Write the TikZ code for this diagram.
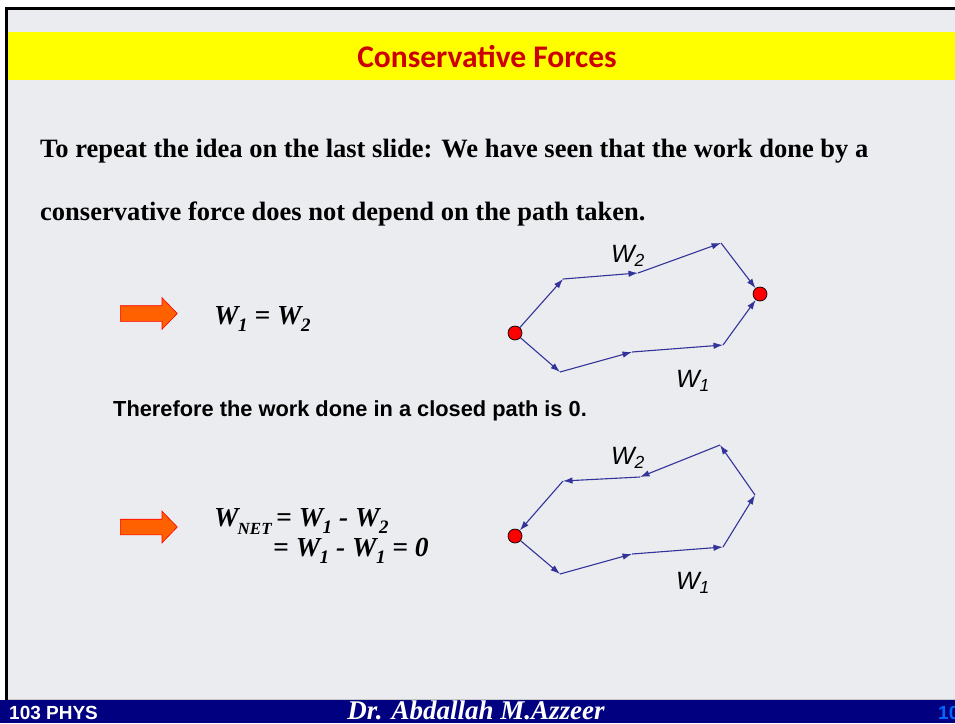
\documentclass[tikz,border=0pt]{standalone}
\usepackage{fontspec}
\setmainfont{Liberation Serif}
\newfontfamily\arialfont{Liberation Sans}
\newfontfamily\calibrifont{Carlito}
\usetikzlibrary{arrows.meta,shapes.arrows}
\definecolor{slidebg}{RGB}{235,236,240}
\definecolor{titlebar}{RGB}{255,255,0}
\definecolor{titlered}{RGB}{204,0,0}
\definecolor{pathblue}{RGB}{51,51,153}
\definecolor{footnavy}{RGB}{0,0,128}
\definecolor{pagenum}{RGB}{0,102,255}
\definecolor{hintfill}{RGB}{255,96,0}
\newcommand{\Wsub}[1]{W\kern-0.5pt\raisebox{-0.28em}{\fontsize{19}{19}\selectfont #1}}

\begin{document}
\begin{tikzpicture}[
  x=1pt,y=-1pt,
  seg/.style={-{Latex[length=9.5pt,width=6.5pt]},draw=pathblue,line width=1.1pt},
  dot/.style={circle,fill=red,draw=black,line width=0.7pt,minimum size=14pt,inner sep=0pt},
  hint/.style={single arrow,single arrow head extend=8pt,single arrow tip angle=92,
    minimum height=57pt,inner xsep=0pt,inner ysep=7.5pt,fill=hintfill,draw=red,
    line width=0.6pt,anchor=tail},
  body/.style={font=\fontsize{26.5}{30}\selectfont\bfseries,anchor=base west,inner sep=0pt},
  sansbody/.style={font=\arialfont\fontsize{21.8}{26}\selectfont\bfseries,anchor=base west,inner sep=0pt},
  eq/.style={font=\fontsize{27.5}{30}\selectfont\bfseries\itshape,anchor=base west,inner sep=0pt},
  wlabel/.style={font=\arialfont\itshape\fontsize{25}{26}\selectfont,inner sep=0pt}
]
\useasboundingbox (0,0) rectangle (955,723);
\clip (0,0) rectangle (955,723);

% -------------------------------------------------------------------------
% Slide frame, title bar and footer.
% -------------------------------------------------------------------------
\fill[white] (0,0) rectangle (955,723);
\fill[slidebg] (6,9) rectangle (955,700);
\draw[line width=3pt] (6.5,723) -- (6.5,8.5) -- (955,8.5);
\fill[titlebar] (8,32) rectangle (955,80);
\node[font=\calibrifont\fontsize{31.5}{34}\selectfont\bfseries,text=titlered] (title) at (487,57)
  {Conservative Forces};
\draw[gray!45,line width=1pt] (8,699) -- (955,699);
\fill[footnavy] (0,700) rectangle (955,723);
\node[font=\arialfont\fontsize{19}{20}\selectfont\bfseries,text=white,anchor=base west,inner sep=0pt]
  (course) at (9,719) {103 PHYS};
\node[font=\fontsize{27}{28}\selectfont\bfseries\itshape,text=white,anchor=base,inner sep=0pt]
  (author) at (476,719) {Dr. Abdallah M.Azzeer};
\node[font=\arialfont\fontsize{19}{20}\selectfont\bfseries,text=pagenum,anchor=base west,inner sep=0pt]
  (pageno) at (938,719) {10};

% -------------------------------------------------------------------------
% Text of the slide.
% -------------------------------------------------------------------------
\node[body] (line1) at (40,157)
  {To repeat the idea on the last slide: We have seen that the work done by a};
\node[body] (line2) at (40,220)
  {conservative force does not depend on the path taken.};
\node[sansbody] (closed) at (113,416) {Therefore the work done in a closed path is 0.};

\node[hint] (hint1) at (120,313.5) {};
\node[eq] (eqsame) at (214,324) {\Wsub{1} = \Wsub{2}};
\node[hint] (hint2) at (120,527) {};
\node[eq] (eqnet) at (214,526)
  {W\kern-1pt\raisebox{-0.3em}{\fontsize{17}{17}\selectfont NET}\,= \Wsub{1} - \Wsub{2}};
\node[eq] (eqzero) at (273,556) {= \Wsub{1} - \Wsub{1} = 0};

% -------------------------------------------------------------------------
% Two paths between the same end points.
% -------------------------------------------------------------------------
\node[dot] (a1) at (515,333) {};
\node[dot] (e1) at (760,294) {};
\coordinate (b1) at (563,279);
\coordinate (c1) at (638,273);
\coordinate (d1) at (721,243);
\coordinate (f1) at (560,372);
\coordinate (g1) at (632,352);
\coordinate (h1) at (723,345);
\foreach \p/\q in {a1/b1,b1/c1,c1/d1,d1/e1,a1/f1,f1/g1,g1/h1,h1/e1}
  {\draw[seg] (\p) -- (\q);}
\node[wlabel] (wtwo1) at (628,256) {W\textsubscript{2}};
\node[wlabel] (wone1) at (693,381) {W\textsubscript{1}};

% -------------------------------------------------------------------------
% Closed path back to the start.
% -------------------------------------------------------------------------
\node[dot] (a2) at (515,536) {};
\coordinate (f2) at (560,574);
\coordinate (g2) at (632,554);
\coordinate (h2) at (723,547);
\coordinate (i2) at (755,495);
\coordinate (j2) at (720,445);
\coordinate (k2) at (640,477);
\coordinate (l2) at (563,481);
\foreach \p/\q in {a2/f2,f2/g2,g2/h2,h2/i2,i2/j2,j2/k2,k2/l2,l2/a2}
  {\draw[seg] (\p) -- (\q);}
\node[wlabel] (wtwo2) at (628,458) {W\textsubscript{2}};
\node[wlabel] (wone2) at (693,583) {W\textsubscript{1}};
\end{tikzpicture}
\end{document}
